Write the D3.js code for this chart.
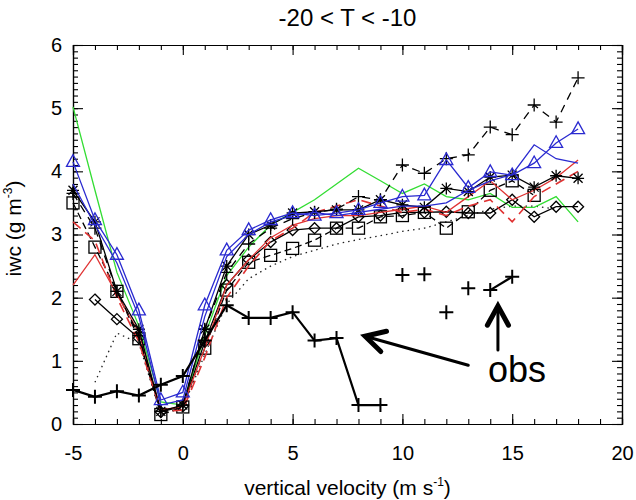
<!DOCTYPE html>
<html>
<head>
<meta charset="utf-8">
<script src="https://cdn.jsdelivr.net/npm/d3@7"></script>
<style>
  body { margin: 0; background: #fff; }
  text { font-family: "Liberation Sans", Arial, Helvetica, sans-serif; fill: #000; }
</style>
</head>
<body>
<svg id="chart" width="636" height="500"></svg>
<script>
// velocity bins (m/s)
var velocity = [-5, -4, -3, -2, -1, 0, 1, 2, 3, 4, 5, 6, 7, 8, 9, 10, 11, 12, 13, 14, 15, 16, 17, 18];

// model iwc (g m-3), one array per curve
var greenIwc   = [5.02, 3.7, 2.4, 1.55, 0.35, 0.3, 1.4, 2.35, 2.8, 3.15, 3.35, 3.55, 3.8, 4.05, 3.85, 3.65, 3.8, 3.6, 3.55, 3.65, 3.43, 3.43, 3.6, 3.2];
var blueTriIwc = [4.15, 3.23, 2.68, 1.8, 0.38, 0.5, 1.88, 2.75, 3.07, 3.23, 3.34, 3.3, 3.34, 3.39, 3.5, 3.6, 3.62, 4.18, 3.74, 3.99, 3.94, 4.13, 4.45, 4.67];
var blueIwc    = [3.8, 3.15, 2.55, 1.7, 0.3, 0.38, 1.7, 2.65, 3.0, 3.2, 3.3, 3.35, 3.3, 3.35, 3.4, 3.45, 3.45, 3.5, 3.7, 3.85, 3.95, 4.42, 4.2, 4.13];
var redIwc     = [2.2, 2.68, 2.05, 1.45, 0.22, 0.28, 1.2, 2.2, 2.6, 2.95, 3.15, 3.25, 3.3, 3.3, 3.35, 3.4, 3.45, 3.35, 3.6, 3.85, 3.55, 3.7, 3.9, 4.18];
var redDashIwc = [3.2, 2.9, 2.0, 1.3, 0.2, 0.22, 1.05, 2.0, 2.5, 2.9, 3.1, 3.35, 3.45, 3.55, 3.45, 3.35, 3.4, 3.3, 3.45, 3.55, 3.2, 3.6, 3.8, 4.0];
var starIwc    = [3.7, 3.2, 2.1, 1.5, 0.2, 0.3, 1.5, 2.5, 3.0, 3.15, 3.34, 3.36, 3.39, 3.39, 3.55, 3.47, 3.43, 3.73, 3.68, 3.91, 3.94, 3.75, 3.93, 3.89];
var plusDashIwc = [3.65, 3.1, 2.1, 1.4, 0.2, 0.3, 1.5, 2.4, 2.85, 3.1, 3.25, 3.35, 3.4, 3.6, 3.55, 4.1, 3.97, 4.2, 4.26, 4.7, 4.58, 5.05, 4.78, 5.48];
var squareIwc  = [3.5, 2.8, 2.1, 1.35, 0.15, 0.27, 1.2, 2.12, 2.56, 2.67, 2.78, 2.91, 3.1, 3.1, 3.28, 3.3, 3.35, 3.1, 3.36, 3.7, 3.85, 3.62, null, null];
var diamondIwc = [null, 1.97, 1.66, 1.36, 0.19, 0.28, 1.3, 2.2, 2.6, 2.88, 3.07, 3.1, 3.1, 3.28, 3.3, 3.35, 3.35, 3.36, 3.34, 3.34, 3.55, 3.28, 3.44, 3.44];
var dottedIwc  = [null, 0.66, 1.44, 1.28, 0.15, 0.25, 1.1, 1.9, 2.3, 2.5, 2.65, 2.75, 2.85, 2.92, 2.98, 3.05, 3.1, 3.2, 3.3, 3.4, 3.45, 3.45, 3.4, null];

// observations (bins -5..15); obsJoin = drawn joined to the previous point
var obsIwc  = [0.54, 0.43, 0.52, 0.45, 0.62, 0.76, 1.32, 1.88, 1.68, 1.68, 1.77, 1.32, 1.36, 0.3, 0.3, 2.36, 2.37, 1.77, 2.15, 2.12, 2.33];
var obsJoin = [false, true, true, true, true, true, true, true, true, true, true, true, true, true, true, false, false, false, false, false, true];

var xTicks = [-5, 0, 5, 10, 15, 20];
var yTicks = [0, 1, 2, 3, 4, 5, 6];

// Set up the SVG container
var margin = { top: 45, right: 14, bottom: 76, left: 73 };
var width = 636 - margin.left - margin.right;
var height = 500 - margin.top - margin.bottom;

var svg = d3.select("#chart")
    .append("g")
    .attr("transform", "translate(" + margin.left + "," + margin.top + ")");

var x = d3.scaleLinear().domain([-5, 20]).range([0, width]);
var y = d3.scaleLinear().domain([0, 6]).range([height, 0]);

// axes: ticks point inward on all four sides
function styleAxis(g) {
    g.select(".domain").attr("stroke", "#000").attr("stroke-width", 1.2);
    g.selectAll(".tick line").attr("stroke", "#000").attr("stroke-width", 1.1);
    g.selectAll("text").style("font-size", "20px").attr("fill", "#000");
}

var xMinor = d3.range(-5, 20.5, 1);
var yMinor = d3.range(0, 6.05, 0.1);
var plain = function(d) { return String(d); };  // keep ascii hyphen for negatives

svg.append("g").attr("transform", "translate(0," + height + ")")
    .call(d3.axisBottom(x).tickValues(xMinor).tickSize(-5).tickFormat(""))
    .call(styleAxis);
svg.append("g").attr("transform", "translate(0," + height + ")")
    .call(d3.axisBottom(x).tickValues(xTicks).tickSizeInner(-10).tickSizeOuter(0).tickPadding(22).tickFormat(plain))
    .call(styleAxis);
svg.append("g")
    .call(d3.axisTop(x).tickValues(xMinor).tickSize(-5).tickFormat(""))
    .call(styleAxis);
svg.append("g")
    .call(d3.axisTop(x).tickValues(xTicks).tickSize(-10).tickFormat(""))
    .call(styleAxis);

svg.append("g")
    .call(d3.axisLeft(y).tickValues(yMinor).tickSize(-5).tickFormat(""))
    .call(styleAxis);
svg.append("g")
    .call(d3.axisLeft(y).tickValues(yTicks).tickSizeInner(-10).tickSizeOuter(0).tickPadding(11).tickFormat(plain))
    .call(styleAxis);
svg.append("g").attr("transform", "translate(" + width + ",0)")
    .call(d3.axisRight(y).tickValues(yMinor).tickSize(-5).tickFormat(""))
    .call(styleAxis);
svg.append("g").attr("transform", "translate(" + width + ",0)")
    .call(d3.axisRight(y).tickValues(yTicks).tickSize(-10).tickFormat(""))
    .call(styleAxis);

// title and axis labels
svg.append("text")
    .attr("x", width / 2).attr("y", -19)
    .style("text-anchor", "middle").style("font-size", "24px")
    .text("-20 < T < -10");

var xl = svg.append("text")
    .attr("x", width / 2).attr("y", height + 71)
    .style("text-anchor", "middle").style("font-size", "21px")
    .text("vertical velocity (m s");
xl.append("tspan").attr("dy", -9).style("font-size", "12px").text("-1");
xl.append("tspan").attr("dy", 9).text(")");

var yl = svg.append("text")
    .attr("transform", "rotate(-90)")
    .attr("x", -height / 2 + 6).attr("y", -52)
    .style("text-anchor", "middle").style("font-size", "21px")
    .text("iwc (g m");
yl.append("tspan").attr("dy", -9).style("font-size", "12px").text("-3");
yl.append("tspan").attr("dy", 9).text(")");

// markers
function drawMarker(g, type, cx, cy, color, s) {
    var h = s / 2;
    if (type === "plus") {
        g.append("path").attr("d", "M" + (cx - h) + "," + cy + "H" + (cx + h) + "M" + cx + "," + (cy - h) + "V" + (cy + h));
    } else if (type === "star") {
        var d = h * 0.75;
        g.append("path").attr("d",
            "M" + (cx - h) + "," + cy + "H" + (cx + h) +
            "M" + cx + "," + (cy - h) + "V" + (cy + h) +
            "M" + (cx - d) + "," + (cy - d) + "L" + (cx + d) + "," + (cy + d) +
            "M" + (cx - d) + "," + (cy + d) + "L" + (cx + d) + "," + (cy - d));
    } else if (type === "triangle") {
        g.append("path").attr("d", "M" + cx + "," + (cy - h * 1.1) + "L" + (cx + h) + "," + (cy + h * 0.7) + "L" + (cx - h) + "," + (cy + h * 0.7) + "Z");
    } else if (type === "square") {
        g.append("rect").attr("x", cx - h).attr("y", cy - h).attr("width", s).attr("height", s);
    } else if (type === "diamond") {
        g.append("path").attr("d", "M" + cx + "," + (cy - h) + "L" + (cx + h) + "," + cy + "L" + cx + "," + (cy + h) + "L" + (cx - h) + "," + cy + "Z");
    }
}

var line = d3.line()
    .defined(function(d) { return d.v !== null; })
    .x(function(d) { return x(d.x); })
    .y(function(d) { return y(d.v); });

function drawSeries(values, color, dash, marker, size, lw) {
    var pts = values.map(function(v, i) { return { x: velocity[i], v: v }; });
    var g = svg.append("g");
    g.append("path")
        .datum(pts)
        .attr("d", line)
        .attr("fill", "none")
        .attr("stroke", color)
        .attr("stroke-width", lw || 1.3)
        .attr("stroke-dasharray", dash);
    if (marker) {
        var mg = g.append("g").attr("fill", "none").attr("stroke", color).attr("stroke-width", 1.3);
        pts.forEach(function(d) {
            if (d.v !== null) drawMarker(mg, marker, x(d.x), y(d.v), color, size);
        });
    }
}

drawSeries(dottedIwc, "#222", "1.5,4", null);
drawSeries(greenIwc, "#33dd33", null, null);
drawSeries(diamondIwc, "#000", null, "diamond", 11);
drawSeries(squareIwc, "#000", "7,4", "square", 12);
drawSeries(redDashIwc, "#e03333", "10,6", null, 0, 1.6);
drawSeries(redIwc, "#e03333", null, null);
drawSeries(plusDashIwc, "#000", "8,6", "plus", 13);
drawSeries(starIwc, "#000", null, "star", 12);
drawSeries(blueIwc, "#2a2ad0", null, null);
drawSeries(blueTriIwc, "#2a2ad0", null, "triangle", 13);

// observations: thick black with plus signs
var obsPts = obsIwc.map(function(v, i) { return { x: velocity[i], v: v }; });
var og = svg.append("g");
var seg = [];
obsPts.forEach(function(d, i) {
    if (!obsJoin[i] && seg.length) {
        if (seg.length > 1) og.append("path").datum(seg).attr("d", line);
        seg = [];
    }
    seg.push(d);
});
if (seg.length > 1) og.append("path").datum(seg).attr("d", line);
og.selectAll("path").attr("fill", "none").attr("stroke", "#000").attr("stroke-width", 2.2);
var omg = og.append("g").attr("fill", "none").attr("stroke", "#000").attr("stroke-width", 2);
obsPts.forEach(function(d) { drawMarker(omg, "plus", x(d.x), y(d.v), "#000", 14); });

// "obs" label with arrows
function arrow(x0, y0, x1, y1) {
    var px0 = x(x0), py0 = y(y0), px1 = x(x1), py1 = y(y1);
    var a = Math.atan2(py1 - py0, px1 - px0);
    var L = 22, w = 0.5;
    var g = svg.append("g").attr("fill", "none").attr("stroke", "#000").attr("stroke-linecap", "round");
    g.append("line").attr("x1", px0).attr("y1", py0).attr("x2", px1).attr("y2", py1).attr("stroke-width", 3);
    g.append("path")
        .attr("d", "M" + (px1 - L * Math.cos(a - w)) + "," + (py1 - L * Math.sin(a - w)) +
            "L" + px1 + "," + py1 +
            "L" + (px1 - L * Math.cos(a + w)) + "," + (py1 - L * Math.sin(a + w)))
        .attr("stroke-width", 5).attr("stroke-linejoin", "miter");
}
arrow(13.0, 0.93, 8.3, 1.39);
arrow(14.35, 1.17, 14.35, 1.87);

svg.append("text")
    .attr("x", x(13.9)).attr("y", y(0.66))
    .style("font-size", "36px")
    .text("obs");
</script>
</body>
</html>
